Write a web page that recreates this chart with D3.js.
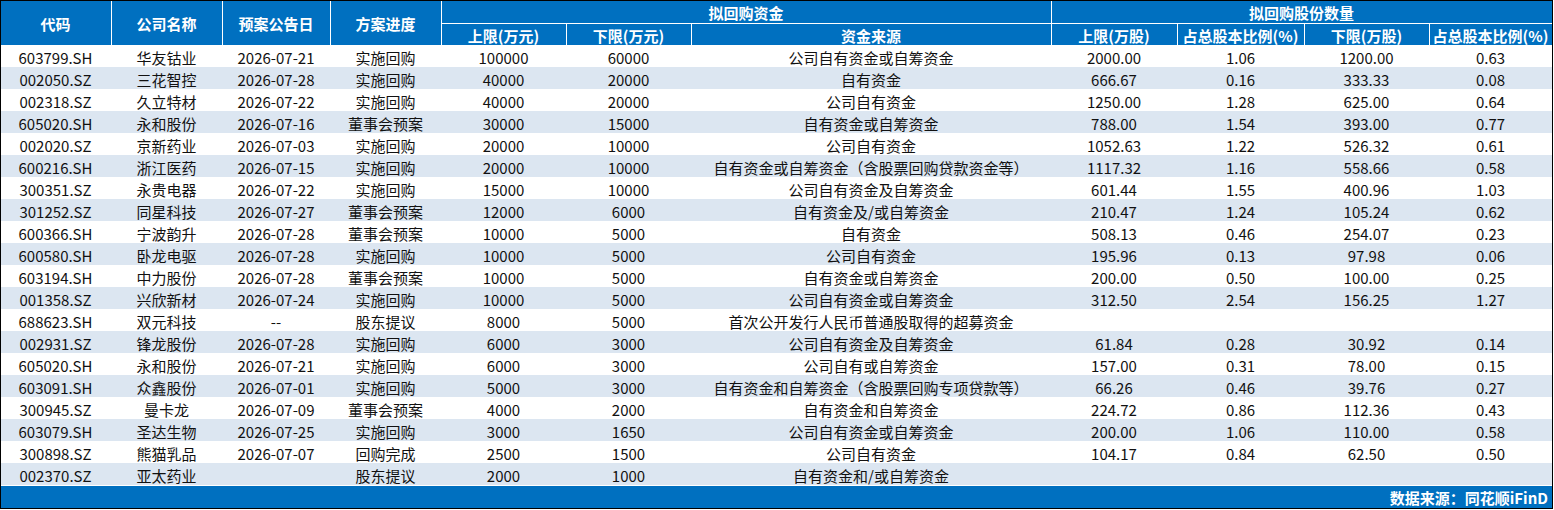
<!DOCTYPE html>
<html><head><meta charset="utf-8">
<script src="https://cdn.jsdelivr.net/npm/d3@7"></script>
<style>body{margin:0;background:#fff;font-family:"Noto Sans CJK SC","Liberation Sans",sans-serif}</style>
</head><body>
<svg id="t" width="1554" height="510"></svg>
<script>
const codes=["603799.SH","002050.SZ","002318.SZ","605020.SH","002020.SZ","600216.SH","300351.SZ","301252.SZ","600366.SH","600580.SH","603194.SH","001358.SZ","688623.SH","002931.SZ","605020.SH","603091.SH","300945.SZ","603079.SH","300898.SZ","002370.SZ"];
const names=["华友钴业","三花智控","久立特材","永和股份","京新药业","浙江医药","永贵电器","同星科技","宁波韵升","卧龙电驱","中力股份","兴欣新材","双元科技","锋龙股份","永和股份","众鑫股份","曼卡龙","圣达生物","熊猫乳品","亚太药业"];
const dates=["2026-07-21","2026-07-28","2026-07-22","2026-07-16","2026-07-03","2026-07-15","2026-07-22","2026-07-27","2026-07-28","2026-07-28","2026-07-28","2026-07-24","--","2026-07-28","2026-07-21","2026-07-01","2026-07-09","2026-07-25","2026-07-07",""];
const progress=["实施回购","实施回购","实施回购","董事会预案","实施回购","实施回购","实施回购","董事会预案","董事会预案","实施回购","董事会预案","实施回购","股东提议","实施回购","实施回购","实施回购","董事会预案","实施回购","回购完成","股东提议"];
const fundHigh=[100000,40000,40000,30000,20000,20000,15000,12000,10000,10000,10000,10000,8000,6000,6000,5000,4000,3000,2500,2000];
const fundLow=[60000,20000,20000,15000,10000,10000,10000,6000,5000,5000,5000,5000,5000,3000,3000,3000,2000,1650,1500,1000];
const sources=["公司自有资金或自筹资金","自有资金","公司自有资金","自有资金或自筹资金","公司自有资金","自有资金或自筹资金（含股票回购贷款资金等）","公司自有资金及自筹资金","自有资金及/或自筹资金","自有资金","公司自有资金","自有资金或自筹资金","公司自有资金或自筹资金","首次公开发行人民币普通股取得的超募资金","公司自有资金及自筹资金","公司自有或自筹资金","自有资金和自筹资金（含股票回购专项贷款等）","自有资金和自筹资金","公司自有资金或自筹资金","公司自有资金","自有资金和/或自筹资金"];
const shareHigh=["2000.00","666.67","1250.00","788.00","1052.63","1117.32","601.44","210.47","508.13","195.96","200.00","312.50","","61.84","157.00","66.26","224.72","200.00","104.17",""];
const pctHigh=["1.06","0.16","1.28","1.54","1.22","1.16","1.55","1.24","0.46","0.13","0.50","2.54","","0.28","0.31","0.46","0.86","1.06","0.84",""];
const shareLow=["1200.00","333.33","625.00","393.00","526.32","558.66","400.96","105.24","254.07","97.98","100.00","156.25","","30.92","78.00","39.76","112.36","110.00","62.50",""];
const pctLow=["0.63","0.08","0.64","0.77","0.61","0.58","1.03","0.62","0.23","0.06","0.25","1.27","","0.14","0.15","0.27","0.43","0.58","0.50",""];
const colEdges=[0,111,222,330,441,566,691,1051,1177,1304,1429,1552];
const headTop=["代码","公司名称","预案公告日","方案进度"];
const headGroups=[{t:"拟回购资金",a:4,b:7},{t:"拟回购股份数量",a:7,b:11}];
const headSub=["上限(万元)","下限(万元)","资金来源","上限(万股)","占总股本比例(%)","下限(万股)","占总股本比例(%)"];
const footer="数据来源：同花顺iFinD";

const svg=d3.select("#t");
const blue="#0070c0",band="#dce6f1";
const y=d3.scaleBand().domain(d3.range(codes.length)).range([45,485]);
const rh=y.bandwidth();
const cx=i=>(colEdges[i]+colEdges[i+1])/2;

// header
svg.append("rect").attr("x",0).attr("y",0).attr("width",1552).attr("height",45).attr("fill",blue);
const hd=svg.append("g").attr("fill","#fff").attr("font-size",15).attr("font-weight","bold").attr("text-anchor","middle").attr("dominant-baseline","central");
headTop.forEach((t,i)=>hd.append("text").attr("x",cx(i)).attr("y",23).text(t));
headGroups.forEach(g=>hd.append("text").attr("x",(colEdges[g.a]+colEdges[g.b])/2).attr("y",12).text(g.t));
headSub.forEach((t,i)=>hd.append("text").attr("x",cx(i+4)).attr("y",35).text(t));
const ln=svg.append("g").attr("stroke","#fff").attr("stroke-width",1);
colEdges.slice(1,-1).forEach((x,i)=>{const top=(i+1>=4)&&x!==colEdges[7]?23:0;
  ln.append("line").attr("x1",x+.5).attr("x2",x+.5).attr("y1",(i+1)>4&&x!==colEdges[7]?23:0).attr("y2",45);});
ln.append("line").attr("x1",colEdges[4]).attr("x2",1552).attr("y1",23.5).attr("y2",23.5);

// body
const rows=svg.append("g").selectAll("g").data(codes).join("g").attr("transform",(d,i)=>`translate(0,${y(i)})`);
rows.append("rect").attr("width",1552).attr("height",rh).attr("fill",(d,i)=>i%2?band:"#fff");
const cols=[codes,names,dates,progress,fundHigh,fundLow,sources,shareHigh,pctHigh,shareLow,pctLow];
rows.each(function(d,i){
  const g=d3.select(this);
  cols.forEach((c,j)=>g.append("text").attr("x",cx(j)).attr("y",rh/2+1).attr("text-anchor","middle")
    .attr("dominant-baseline","central").attr("font-size",15).attr("fill","#111").text(c[i]));
});

// footer
svg.append("rect").attr("x",0).attr("y",486).attr("width",1552).attr("height",22).attr("fill",blue);
svg.append("text").attr("x",1548).attr("y",497).attr("text-anchor","end").attr("dominant-baseline","central")
  .attr("fill","#fff").attr("font-size",15).attr("font-weight","bold").text(footer);
svg.append("rect").attr("x",0.5).attr("y",0.5).attr("width",1552).attr("height",508).attr("fill","none").attr("stroke","#000");
</script>
</body></html>
